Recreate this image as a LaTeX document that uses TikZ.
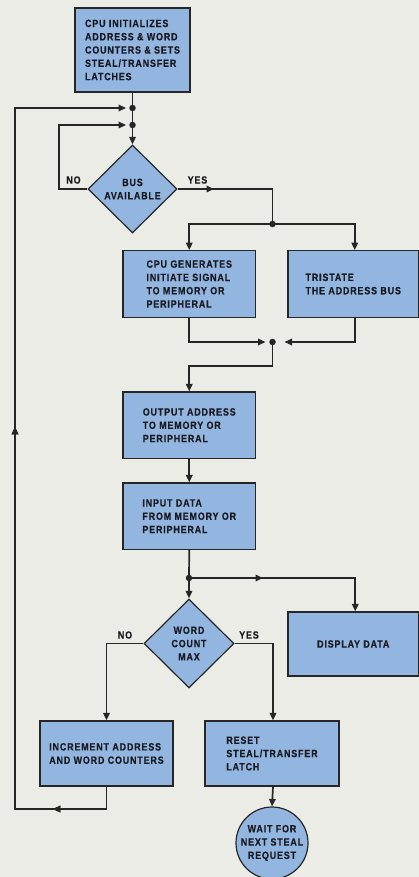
\documentclass[tikz,border=0pt]{standalone}
\usepackage{fontspec}
\newfontfamily\chartfont{Liberation Sans}[FakeStretch=0.85,LetterSpace=8,FakeBold=0.4]
\usetikzlibrary{arrows.meta,shapes.geometric,decorations.markings}
\definecolor{paper}{RGB}{236,236,231}
\definecolor{boxblue}{RGB}{146,182,224}
\definecolor{ink}{RGB}{38,38,38}
\definecolor{type}{RGB}{26,26,34}
\tikzset{
  flow/.style={draw=ink, line width=1.7pt},
  tip/.style={-{Triangle[length=7.5pt,width=6.5pt]}},
  chartfont/.style={font=\chartfont\bfseries\fontsize{10.5}{13.3}\selectfont},
  process/.style={draw=ink, line width=1.2pt, fill=boxblue, rectangle, inner sep=0pt,
    align=left, text=type, chartfont},
  decision/.style={draw=ink, line width=1.2pt, fill=boxblue, diamond, inner sep=0pt,
    align=center, text=type, chartfont},
  terminal/.style={draw=ink, line width=1.2pt, fill=boxblue, circle, inner sep=0pt,
    align=center, text=type, chartfont},
  tag/.style={text=type, inner sep=0pt, chartfont},
  dot/.style={circle, fill=ink, inner sep=0pt, minimum size=6.5pt},
  arrowat/.style={decoration={markings, mark=at position #1 with {\arrow{Triangle[length=7.5pt,width=6.5pt]}}}, postaction={decorate}},
}
\begin{document}
\begin{tikzpicture}[x=1pt, y=-1pt]
\useasboundingbox (0,0) rectangle (419,877);
\clip (0,0) rectangle (419,877);
\fill[paper] (0,0) rectangle (419,877);

% steps of the transfer
\node[process, minimum width=115pt, minimum height=84pt] (init) at (132.5,50)
  {CPU INITIALIZES\\ADDRESS \& WORD\\COUNTERS \& SETS\\STEAL/TRANSFER\\LATCHES};
\node[decision, minimum width=89pt, minimum height=88pt] (bus) at (132.5,189) {BUS\\AVAILABLE};
\node[process, minimum width=132.5pt, minimum height=66.5pt] (gen) at (189.25,284)
  {CPU GENERATES\\INITIATE SIGNAL\\TO MEMORY OR\\PERIPHERAL};
\node[process, minimum width=130.5pt, minimum height=66.5pt] (tri) at (353.25,284)
  {TRISTATE\\THE ADDRESS BUS};
\node[process, minimum width=132.5pt, minimum height=66.3pt] (out) at (189.25,425.2)
  {OUTPUT ADDRESS\\TO MEMORY OR\\PERIPHERAL};
\node[process, minimum width=132.5pt, minimum height=66.3pt] (inp) at (189.25,516.2)
  {INPUT DATA\\FROM MEMORY OR\\PERIPHERAL};
\node[decision, minimum width=90pt, minimum height=89pt] (wc) at (189,643.5) {WORD\\COUNT\\MAX};
\node[process, minimum width=130.5pt, minimum height=64pt] (disp) at (353.25,644) {DISPLAY DATA};
\node[process, minimum width=133pt, minimum height=65pt] (inc) at (106.5,753.5)
  {INCREMENT ADDRESS\\AND WORD COUNTERS};
\node[process, minimum width=134pt, minimum height=65pt] (rst) at (272,753.5)
  {RESET\\STEAL/TRANSFER\\LATCH};
\node[terminal, minimum size=72pt] (wait) at (272,843) {WAIT FOR\\NEXT STEAL\\REQUEST};

% branch labels
\node[tag] at (73.5,180) {NO};
\node[tag] at (197.5,180) {YES};
\node[tag] at (125,635) {NO};
\node[tag] at (249,635) {YES};

% junctions and bends
\node[dot] (j1) at (132.5,108) {};
\node[dot] (j2) at (132.5,125) {};
\node[dot] (j3) at (272.5,224) {};
\node[dot] (j4) at (272.5,342) {};
\node[dot] (j5) at (189,578) {};
\coordinate (noturn) at (59,189);
\coordinate (yesmark) at (214,189);
\coordinate (yesturn) at (272.5,189);
\coordinate (merge) at (272.5,366);
\coordinate (loopturn) at (15,809);
\coordinate (looptop) at (15,108);

% connectors
\draw[flow] (init.south) -- (j1.center) -- (j2.center);
\draw[flow, tip] (j2.center) -- (bus.north);
\draw[flow, tip, shorten >=3pt] (bus.west) -- (noturn) |- (j2);
\draw[flow] (bus.east) -- (yesturn) -- (j3.center);
\draw[flow, tip] (bus.east) -- (yesmark);
\draw[flow, tip] (j3.center) -| (gen.north);
\draw[flow, tip] (j3.center) -| ([xshift=1.5pt]tri.north);
\draw[flow, tip, shorten >=7pt] (gen.south) |- (j4.center);
\draw[flow, tip, shorten >=12pt] ([xshift=1.5pt]tri.south) |- (j4.center);
\draw[flow, tip] (j4.center) -- (merge) -| (out.north);
\draw[flow, tip] (out.south) -- (inp.north);
\draw[flow, tip] (inp.south) -- (j5.center) -- (wc.north);
\draw[flow, tip, arrowat=74pt] (j5.center) -| ([xshift=2pt]disp.north);
\draw[flow, tip] (wc.west) -| (inc.north);
\draw[flow, tip] (wc.east) -| ([xshift=1pt]rst.north);
\draw[flow, tip] ([xshift=1pt]rst.south) -- (wait.north);
\draw[flow, tip, shorten >=3pt, arrowat=76pt, arrowat=496pt]
  (inc.south) |- (loopturn) -- (looptop) -- (j1);
\end{tikzpicture}
\end{document}
